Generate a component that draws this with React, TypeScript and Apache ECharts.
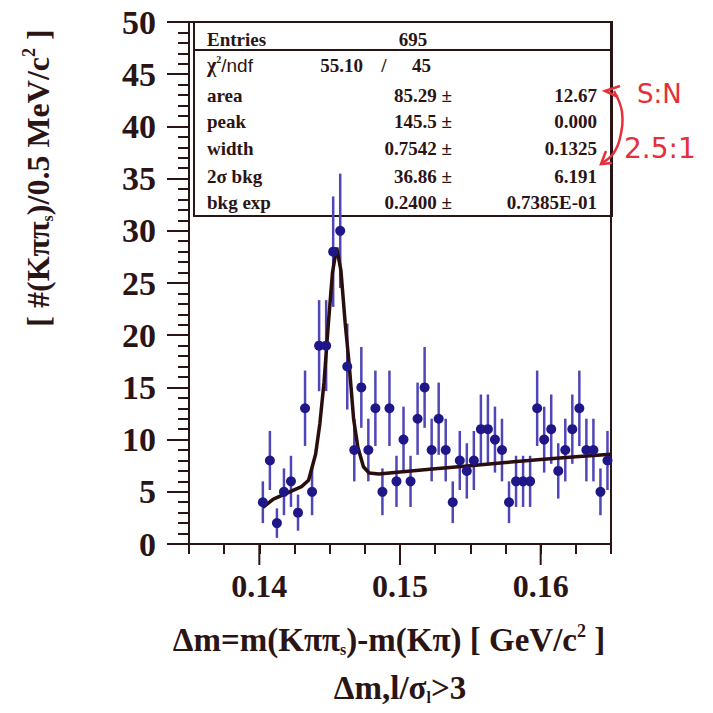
import React, { useEffect, useRef } from "react";
import * as echarts from "echarts";

// ---- data ----
const binCenters = [
  0.14025, 0.14075, 0.14125, 0.14175, 0.14225, 0.14275, 0.14325, 0.14375, 0.14425, 0.14475,
  0.14525, 0.14575, 0.14625, 0.14675, 0.14725, 0.14775, 0.14825, 0.14875, 0.14925, 0.14975,
  0.15025, 0.15075, 0.15125, 0.15175, 0.15225, 0.15275, 0.15325, 0.15375, 0.15425, 0.15475,
  0.15525, 0.15575, 0.15625, 0.15675, 0.15725, 0.15775, 0.15825, 0.15875, 0.15925, 0.15975,
  0.16025, 0.16075, 0.16125, 0.16175, 0.16225, 0.16275, 0.16325, 0.16375, 0.16425, 0.16475,
];
const counts = [
  4, 8, 2, 5, 6, 3, 13, 5, 19, 19,
  28, 30, 17, 9, 15, 9, 13, 5, 13, 6,
  10, 6, 12, 15, 9, 12, 9, 4, 8, 7,
  8, 11, 11, 10, 9, 4, 6, 6, 6, 13,
  10, 11, 7, 9, 11, 13, 9, 9, 5, 8,
];
const errors = [
  2.0, 2.83, 1.41, 2.24, 2.45, 1.73, 3.61, 2.24, 4.36, 4.36,
  5.29, 5.48, 4.12, 3.0, 3.87, 3.0, 3.61, 2.24, 3.61, 2.45,
  3.16, 2.45, 3.46, 3.87, 3.0, 3.46, 3.0, 2.0, 2.83, 2.65,
  2.83, 3.32, 3.32, 3.16, 3.0, 2.0, 2.45, 2.45, 2.45, 3.61,
  3.16, 3.32, 2.65, 3.0, 3.32, 3.61, 3.0, 3.0, 2.24, 2.83,
];
const fitX = [
  0.14025, 0.141, 0.142, 0.143, 0.1435, 0.144, 0.1443, 0.1446, 0.1449, 0.1452,
  0.1455, 0.1458, 0.1461, 0.1464, 0.1467, 0.147, 0.1474, 0.1478, 0.1485, 0.15,
  0.1525, 0.155, 0.1575, 0.16, 0.1625, 0.165,
];
const fitY = [
  3.5, 4.3, 4.9, 5.5, 6.1, 8.6, 11.5, 15.5, 21.0, 26.0,
  28.4, 26.2, 21.2, 17.0, 12.0, 9.3, 7.4, 6.8, 6.7, 6.9,
  7.2, 7.5, 7.8, 8.1, 8.35, 8.6,
];
const majorTicks = [0.14, 0.15, 0.16];
const statLabels = ["area", "peak", "width", "2σ bkg", "bkg exp"];
const statValues = ["85.29 ±", "145.5 ±", "0.7542 ±", "36.86 ±", "0.2400 ±"];
const statErrors = ["12.67", "0.000", "0.1325", "6.191", "0.7385E-01"];
const entries = "695";
const chi2 = "55.10";
const ndf = "45";

const INK = "#2a1414";
const SERIF = "'Liberation Serif', 'DejaVu Serif', serif";
const RED = "#e5303a";

export default function App() {
  const ref = useRef<HTMLDivElement>(null);
  useEffect(() => {
    if (!ref.current) return;
    const chart = echarts.init(ref.current, undefined, { renderer: "svg" });

    const F = `bold 19px ${SERIF}`;
    const rowY = [95, 121, 148, 176, 202];
    const boxTexts: any[] = [];
    boxTexts.push({
      type: "text", x: 207, y: 39, z: 1,
      style: { text: "Entries", font: F, fill: INK, align: "left", verticalAlign: "middle" },
    });
    boxTexts.push({
      type: "text", x: 413, y: 39, z: 1,
      style: { text: entries, font: F, fill: INK, align: "center", verticalAlign: "middle" },
    });
    boxTexts.push({
      type: "text", x: 207, y: 65, z: 1,
      style: {
        text: "{g|χ}{p|2}{n|/ndf}",
        align: "left", verticalAlign: "middle",
        rich: {
          g: { fontFamily: SERIF, fontWeight: "bold", fontSize: 20, fill: INK, color: INK },
          p: { fontFamily: SERIF, fontWeight: "bold", fontSize: 10, fill: INK, color: INK, padding: [0, 0, 12, 0] },
          n: { fontFamily: "'Liberation Sans', sans-serif", fontSize: 19, fill: INK, color: INK },
        },
      },
    });
    boxTexts.push({
      type: "text", x: 363, y: 65, z: 1,
      style: { text: chi2, font: F, fill: INK, align: "right", verticalAlign: "middle" },
    });
    boxTexts.push({
      type: "text", x: 384, y: 65, z: 1,
      style: { text: "/", font: F, fill: INK, align: "center", verticalAlign: "middle" },
    });
    boxTexts.push({
      type: "text", x: 431, y: 65, z: 1,
      style: { text: ndf, font: F, fill: INK, align: "right", verticalAlign: "middle" },
    });
    statLabels.forEach((lab, i) => {
      boxTexts.push({
        type: "text", x: 207, y: rowY[i], z: 1,
        style: { text: lab, font: F, fill: INK, align: "left", verticalAlign: "middle" },
      });
      boxTexts.push({
        type: "text", x: 452, y: rowY[i], z: 1,
        style: { text: statValues[i], font: F, fill: INK, align: "right", verticalAlign: "middle" },
      });
      boxTexts.push({
        type: "text", x: 597, y: rowY[i], z: 1,
        style: { text: statErrors[i], font: F, fill: INK, align: "right", verticalAlign: "middle" },
      });
    });

    const titleRich = {
      a: { fontFamily: SERIF, fontWeight: "bold", fontSize: 33, fill: INK, color: INK },
      s: { fontFamily: SERIF, fontWeight: "bold", fontSize: 16, fill: INK, color: INK, padding: [18, 0, 0, 0] },
      p: { fontFamily: SERIF, fontWeight: "bold", fontSize: 18, fill: INK, color: INK, padding: [0, 0, 18, 0] },
    };
    const yTitleRich = {
      a: { fontFamily: SERIF, fontWeight: "bold", fontSize: 32, fill: INK, color: INK },
      s: { fontFamily: SERIF, fontWeight: "bold", fontSize: 16, fill: INK, color: INK, padding: [18, 0, 0, 0] },
      p: { fontFamily: SERIF, fontWeight: "bold", fontSize: 18, fill: INK, color: INK, padding: [0, 0, 18, 0] },
    };

    const option: any = {
      animation: false,
      backgroundColor: "#ffffff",
      grid: {
        left: 189, top: 22, width: 422, height: 522,
        show: true, borderColor: INK, borderWidth: 2, backgroundColor: "transparent",
      },
      xAxis: {
        type: "value", min: 0.135, max: 0.165, interval: 0.0025,
        axisLine: { show: true, onZero: false, lineStyle: { color: INK, width: 2 } },
        axisTick: { show: true, inside: false, length: 10, lineStyle: { color: INK, width: 2 } },
        splitLine: { show: false },
        axisLabel: {
          margin: 26, color: INK, fontFamily: SERIF, fontWeight: "bold", fontSize: 32,
          formatter: (v: number) => {
            const r = Math.round(v * 100);
            return Math.abs(v * 100 - r) < 1e-6 ? (r / 100).toFixed(2) : "";
          },
        },
      },
      yAxis: {
        type: "value", min: 0, max: 50, interval: 5,
        axisLine: { show: true, lineStyle: { color: INK, width: 2 } },
        axisTick: { show: true, inside: false, length: 22, lineStyle: { color: INK, width: 2 } },
        minorTick: { show: true, splitNumber: 5, length: 11, lineStyle: { color: INK, width: 2 } },
        splitLine: { show: false },
        minorSplitLine: { show: false },
        axisLabel: { margin: 33, color: INK, fontFamily: SERIF, fontWeight: "bold", fontSize: 34 },
      },
      graphic: [
        {
          type: "rect", z: 0,
          shape: { x: 194, y: 22, width: 418, height: 194 },
          style: { fill: "transparent", stroke: INK, lineWidth: 2 },
        },
        {
          type: "line", z: 0,
          shape: { x1: 194, y1: 50, x2: 612, y2: 50 },
          style: { stroke: INK, lineWidth: 2 },
        },
        ...boxTexts,
        {
          type: "text", x: 38, y: 178, rotation: Math.PI / 2,
          style: { text: "{a|[ #(Kππ}{s|s}{a|)/0.5 MeV/c}{p|2}{a| ]}", rich: yTitleRich, align: "center", verticalAlign: "middle" },
        },
        {
          type: "text", x: 389, y: 640,
          style: { text: "{a|Δm=m(Kππ}{s|s}{a|)-m(Kπ) [ GeV/c}{p|2}{a| ]}", rich: titleRich, align: "center", verticalAlign: "middle" },
        },
        {
          type: "text", x: 400, y: 688,
          style: { text: "{a|Δm,l/σ}{s|l}{a|>3}", rich: titleRich, align: "center", verticalAlign: "middle" },
        },
        // handwritten annotation
        {
          type: "text", x: 637, y: 94,
          style: { text: "S:N", font: `normal 26px 'DejaVu Sans', sans-serif`, fill: RED, align: "left", verticalAlign: "middle" },
        },
        {
          type: "text", x: 624, y: 148,
          style: { text: "2.5:1", font: `normal 28px 'DejaVu Sans', sans-serif`, fill: RED, align: "left", verticalAlign: "middle" },
        },
        {
          type: "polyline",
          shape: { points: [[620, 86], [605, 91], [618, 97]] },
          style: { stroke: RED, lineWidth: 2.5, fill: "none" },
        },
        {
          type: "polyline",
          shape: { points: [[614, 91], [622, 112], [620, 138], [613, 154], [602, 163]], smooth: 0.4 },
          style: { stroke: RED, lineWidth: 2.5, fill: "none" },
        },
        {
          type: "polyline",
          shape: { points: [[606, 151], [601, 164], [612, 163]] },
          style: { stroke: RED, lineWidth: 2.5, fill: "none" },
        },
      ],
      series: [
        {
          type: "custom",
          name: "errors",
          z: 3,
          clip: false,
          data: binCenters.map((x, i) => [x, counts[i], errors[i]]),
          renderItem: (params: any, api: any) => {
            const x = api.value(0);
            const y = api.value(1);
            const e = api.value(2);
            const top = api.coord([x, y + e]);
            const bot = api.coord([x, Math.max(0, y - e)]);
            return {
              type: "line",
              shape: { x1: top[0], y1: top[1], x2: bot[0], y2: bot[1] },
              style: { stroke: "#5046b8", lineWidth: 2.5 },
            };
          },
        },
        {
          type: "line",
          name: "fit",
          z: 4,
          data: fitX.map((x, i) => [x, fitY[i]]),
          showSymbol: false,
          symbol: "none",
          lineStyle: { color: "#2a0e0e", width: 3.5 },
        },
        {
          type: "scatter",
          name: "data",
          z: 5,
          data: binCenters.map((x, i) => [x, counts[i]]),
          symbol: "circle",
          symbolSize: 10,
          itemStyle: { color: "#1f1787", opacity: 1 },
        },
        {
          type: "custom",
          name: "majorTicks",
          z: 6,
          clip: false,
          silent: true,
          data: majorTicks.map((x) => [x, 0]),
          renderItem: (params: any, api: any) => {
            const p = api.coord([api.value(0), 0]);
            return {
              type: "line",
              shape: { x1: p[0], y1: p[1], x2: p[0], y2: p[1] + 21 },
              style: { stroke: INK, lineWidth: 2 },
            };
          },
        },
      ],
    };
    chart.setOption(option);
    return () => chart.dispose();
  }, []);
  return (
    <div
      ref={ref}
      style={{ position: "fixed", left: 0, top: 0, width: 713, height: 713, background: "#fff" }}
    />
  );
}
